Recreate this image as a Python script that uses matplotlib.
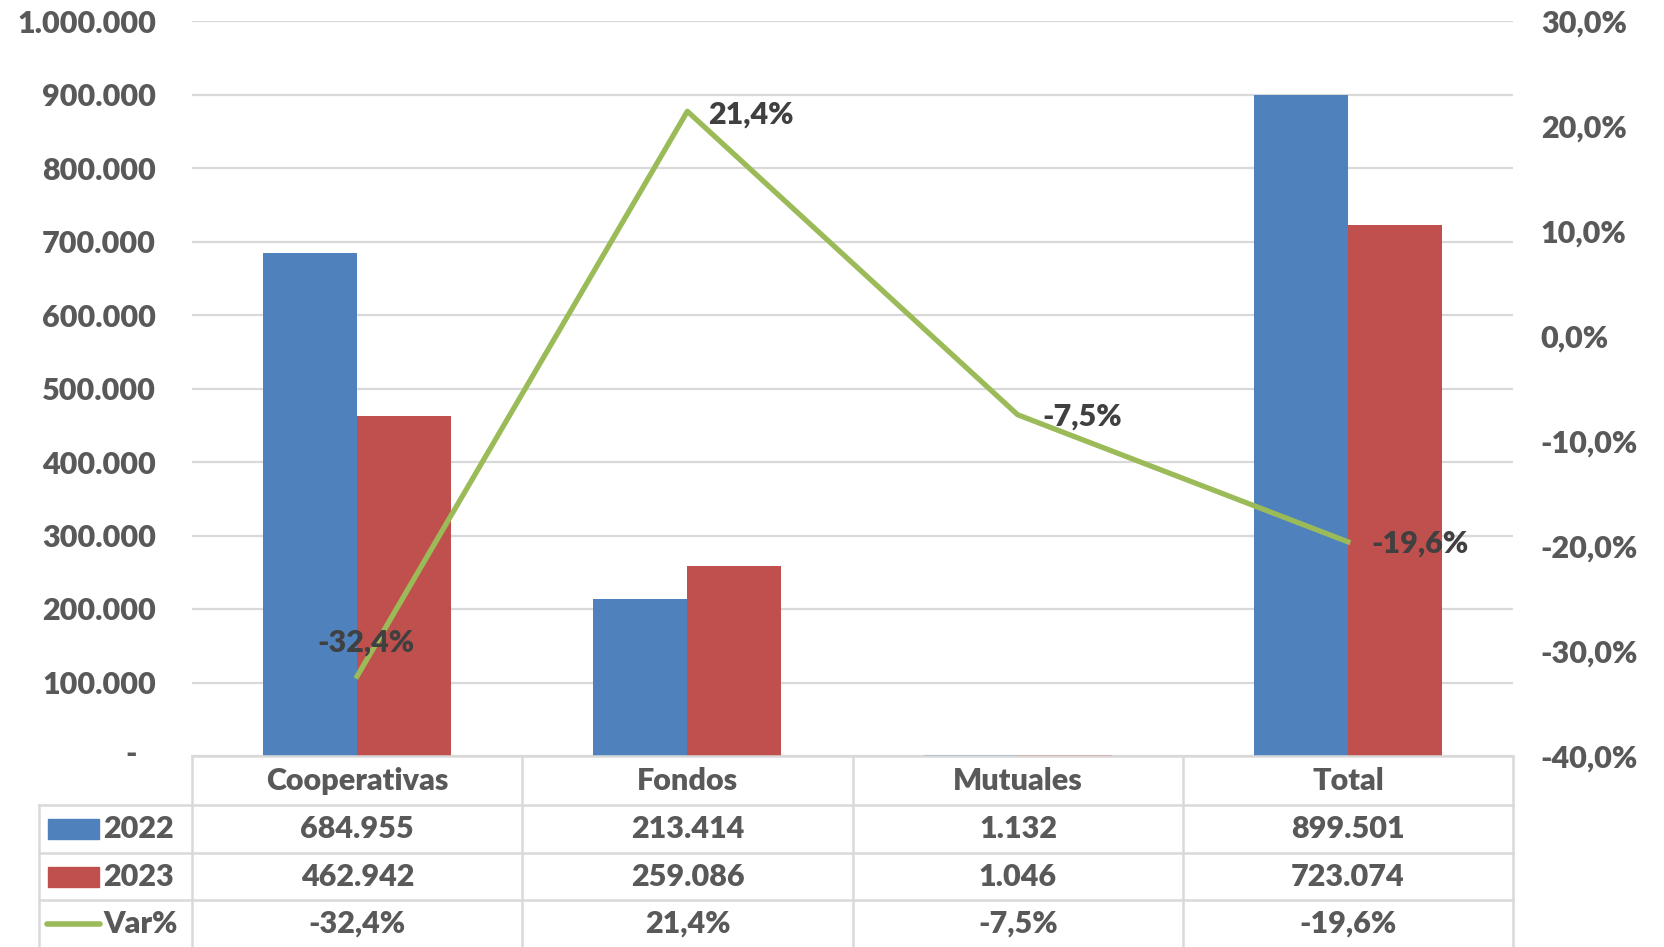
import matplotlib.pyplot as plt
import numpy as np
from matplotlib.lines import Line2D
from matplotlib.patches import Rectangle
from matplotlib.transforms import ScaledTranslation

# ---- data ----
categories = ["Cooperativas", "Fondos", "Mutuales", "Total"]
v2022 = [684955, 213414, 1132, 899501]
v2023 = [462942, 259086, 1046, 723074]
var_pct = [-32.4, 21.4, -7.5, -19.6]
series_names = ["2022", "2023", "Var%"]

BLUE = "#4F81BD"
RED = "#C0504D"
GREEN = "#9BBB59"
TXT = "#595959"
GRID = "#D9D9D9"

W, H = 1665, 947
plt.rcParams['font.family'] = ['Lato', 'DejaVu Sans']
plt.rcParams['font.weight'] = 'heavy'
FS = 22

def fx(x):
    return x / W

def fy(y):
    return 1 - y / H

def fmt_int(v):
    return f"{v:,}".replace(",", ".")

def fmt_pct(v):
    return f"{v:.1f}".replace(".", ",") + "%"

fig = plt.figure(figsize=(W / 100, H / 100), dpi=100)
x0, x1, ytop, ybot = 192, 1513, 21, 756
ax = fig.add_axes([fx(x0), fy(ybot), fx(x1) - fx(x0), fy(ytop) - fy(ybot)])
ax2 = ax.twinx()

x = np.arange(len(categories))
w = 0.285
ax.bar(x - w / 2, v2022, w, color=BLUE, zorder=3)
ax.bar(x + w / 2, v2023, w, color=RED, zorder=3)
ax.set_xlim(-0.5, 3.5)
ax.set_ylim(0, 1000000)
ax.set_yticks(np.arange(0, 1000001, 100000))
ax.set_yticklabels(["-"] + [fmt_int(v) for v in range(100000, 1000001, 100000)])
ax.grid(axis="y", color=GRID, lw=1.6, zorder=0)
ax.set_xticks([])
ax.tick_params(axis="y", length=0, pad=26, labelsize=FS, labelcolor=TXT)
for sp in ax.spines.values():
    sp.set_visible(False)
lbl0 = ax.get_yticklabels()[0]
lbl0.set_transform(lbl0.get_transform() + ScaledTranslation(-0.19, 0.05, fig.dpi_scale_trans))

pct = np.array(var_pct) / 100
ax2.plot(x, pct, color=GREEN, lw=3.8, zorder=4)
ax2.set_ylim(-0.4, 0.3)
ax2.set_yticks(np.arange(-0.4, 0.31, 0.1))
ax2.set_yticklabels([fmt_pct(v) for v in np.arange(-40, 31, 10)])
ax2.tick_params(axis="y", length=0, pad=20, labelsize=FS, labelcolor=TXT)
for sp in ax2.spines.values():
    sp.set_visible(False)

offsets = [(9, 34, "center"), (21, -3, "left"), (25, -2, "left"), (24, -2, "left")]
for xi, p, v, (dx, dy, ha) in zip(x, pct, var_pct, offsets):
    ax2.annotate(fmt_pct(v), (xi, p), xytext=(dx, dy), textcoords="offset pixels",
                 ha=ha, va="center", fontsize=FS, color="#404040", zorder=5)

# ---- data table ----
col_edges = [192, 522.5, 853, 1183, 1513]
row_edges = [756, 805, 853, 900, 947]
tleft = 39

def hline(y, xa, xb):
    fig.add_artist(Line2D([fx(xa), fx(xb)], [fy(y), fy(y)], color=GRID, lw=1.8))

def vline(xv, ya, yb):
    fig.add_artist(Line2D([fx(xv), fx(xv)], [fy(ya), fy(yb)], color=GRID, lw=1.8))

hline(row_edges[0], col_edges[0], col_edges[-1])
for y in row_edges[1:4]:
    hline(y, tleft, col_edges[-1])
for xv in col_edges:
    vline(xv, row_edges[0], row_edges[-1])
vline(tleft, row_edges[1], row_edges[-1])

for i, c in enumerate(categories):
    cx = (col_edges[i] + col_edges[i + 1]) / 2
    cy = (row_edges[0] + row_edges[1]) / 2
    fig.text(fx(cx), fy(cy), c, ha="center", va="center", fontsize=FS, color=TXT)

rows = [[fmt_int(v) for v in v2022], [fmt_int(v) for v in v2023], [fmt_pct(v) for v in var_pct]]
for r, vals in enumerate(rows):
    cy = (row_edges[r + 1] + row_edges[r + 2]) / 2
    for i, s in enumerate(vals):
        cx = (col_edges[i] + col_edges[i + 1]) / 2
        fig.text(fx(cx), fy(cy), s, ha="center", va="center", fontsize=FS, color=TXT)
    fig.text(fx(103), fy(cy), series_names[r], ha="left", va="center", fontsize=FS, color=TXT)

# legend keys
for r, col in enumerate([BLUE, RED]):
    cy = (row_edges[r + 1] + row_edges[r + 2]) / 2
    fig.add_artist(Rectangle((fx(48), fy(cy + 10)), fx(99) - fx(48), fy(cy - 10) - fy(cy + 10),
                             transform=fig.transFigure, color=col))
cy = (row_edges[3] + row_edges[4]) / 2
fig.add_artist(Line2D([fx(47), fx(100)], [fy(cy), fy(cy)], color=GREEN, lw=4, solid_capstyle="round"))

fig.savefig("out.png", dpi=100)
